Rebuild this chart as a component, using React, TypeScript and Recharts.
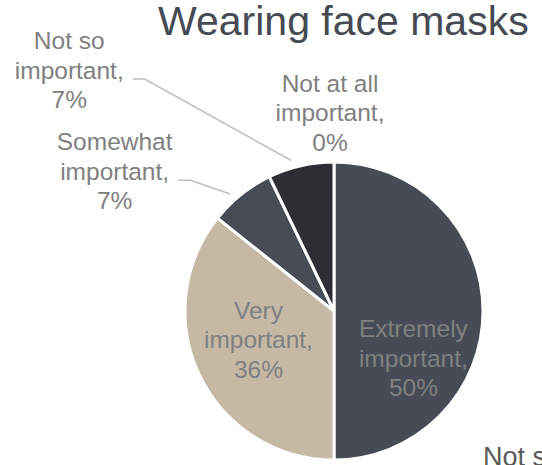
import { PieChart, Pie, Cell } from 'recharts';

const categories = [
  'Extremely important',
  'Very important',
  'Somewhat important',
  'Not so important',
  'Not at all important',
];
const responses = [7, 5, 1, 1, 0];
const sliceColors = ['#474b55', '#c5b9a6', '#484c56', '#2c2e33', '#2c2e33'];
const chartTitle = 'Wearing face masks';
const cutOffLegend = 'Not so important';

// label placement per slice: radius factor + nudge, in px
const labelLayout = [
  { k: 0.6, dx: -10, dy: 47, leader: false },
  { k: 0.6, dx: 5, dy: -10, leader: false },
  { k: 1.5, dx: -80, dy: 35, leader: true },
  { k: 1.5, dx: -215, dy: -23, leader: true },
  { k: 1.33, dx: -4, dy: 0, leader: false },
];

const FONT = '"Liberation Sans", Arial, sans-serif';
const LABEL_SIZE = 24.5;
const LINE_H = 29.5;
const RAD = Math.PI / 180;

const polar = (cx: number, cy: number, r: number, angle: number) => ({
  x: cx + r * Math.cos(-angle * RAD),
  y: cy + r * Math.sin(-angle * RAD),
});

const data = categories.map((name, i) => ({ name, value: responses[i] }));

function renderLabel(props: any) {
  const { cx, cy, midAngle, outerRadius, index, percent } = props;
  const layout = labelLayout[index];
  if (!layout) return null;
  const words = categories[index].split(' ');
  const lines = [
    words.slice(0, -1).join(' '),
    words[words.length - 1] + ',',
    `${Math.round((percent || 0) * 100)}%`,
  ];
  const anchor = polar(cx, cy, outerRadius * layout.k, midAngle);
  const x = anchor.x + layout.dx;
  const y = anchor.y + layout.dy;

  let leader = null;
  if (layout.leader) {
    const halfW = 4.446 * LABEL_SIZE * 0.5; // "important," width
    const sx = x + halfW + 9;
    const sy = y + 9;
    const end = polar(cx, cy, outerRadius * 1.05, midAngle + 3);
    leader = (
      <polyline
        points={`${sx},${sy} ${sx + 12},${sy} ${end.x},${end.y}`}
        fill="none"
        stroke="#bfbfbf"
        strokeWidth={1.5}
      />
    );
  }

  return (
    <g key={`lbl-${index}`}>
      {leader}
      <text
        x={x}
        y={y}
        textAnchor="middle"
        fill="#808080"
        fontFamily={FONT}
        fontSize={LABEL_SIZE}
      >
        {lines.map((line, i) => (
          <tspan key={i} x={x} y={y + (i - 1) * LINE_H} dominantBaseline="central">
            {line}
          </tspan>
        ))}
      </text>
    </g>
  );
}

export default function App() {
  return (
    <div style={{ position: 'absolute', left: 0, top: 0, width: 542, height: 465, background: '#fff', overflow: 'hidden' }}>
      <PieChart width={542} height={465} margin={{ top: 0, right: 0, bottom: 0, left: 0 }}>
        <text x={158} y={35} fill="#454a53" fontFamily={FONT} fontSize={41}>
          {chartTitle}
        </text>
        <Pie
          data={data}
          dataKey="value"
          nameKey="name"
          cx={334}
          cy={311}
          outerRadius={149}
          startAngle={90}
          endAngle={-270}
          stroke="#fff"
          strokeWidth={3}
          labelLine={false}
          label={renderLabel}
          isAnimationActive={false}
        >
          {data.map((d, i) => (
            <Cell key={d.name} fill={sliceColors[i]} />
          ))}
        </Pie>
        {/* legend that sits mostly outside the frame in the original */}
        <text x={483} y={466} fill="#595959" fontFamily={FONT} fontSize={27}>
          {cutOffLegend}
        </text>
      </PieChart>
    </div>
  );
}
